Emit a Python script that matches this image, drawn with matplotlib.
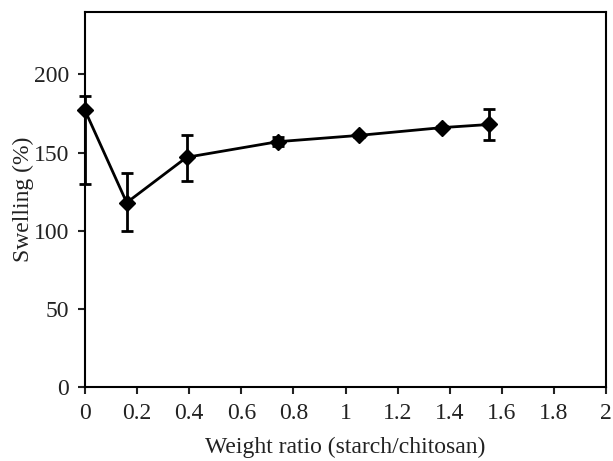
import matplotlib
import matplotlib.pyplot as plt

matplotlib.use('Agg')

# Data
weight_ratio = [0.0, 0.16, 0.39, 0.74, 1.05, 1.37, 1.55]
swelling = [177, 118, 147, 157, 161, 166, 168]
err_low = [47, 18, 15, 3, 1, 1, 10]
err_high = [9, 19, 14, 3, 1, 1, 10]

x_ticks = [0, 0.2, 0.4, 0.6, 0.8, 1, 1.2, 1.4, 1.6, 1.8, 2]
x_tick_labels = ["0", "0.2", "0.4", "0.6", "0.8", "1", "1.2", "1.4", "1.6", "1.8", "2"]
y_ticks = [0, 50, 100, 150, 200]

plt.rcParams['font.family'] = ['Liberation Serif', 'DejaVu Serif']

fig = plt.figure(figsize=(6.13, 4.61), dpi=100, facecolor="white")
ax = fig.add_axes([0.1387, 0.1605, 0.8499, 0.8135])

ax.errorbar(weight_ratio, swelling, yerr=[err_low, err_high],
            color="black", linewidth=2, marker="D", markersize=8.5,
            ecolor="black", elinewidth=2, capsize=4.5, capthick=2, clip_on=False, zorder=3)

ax.set_xlim(0, 2)
ax.set_ylim(0, 240)
ax.set_xticks(x_ticks)
ax.set_xticklabels(x_tick_labels)
ax.set_yticks(y_ticks)

ax.tick_params(axis="both", direction="out", length=5, width=1.5, labelsize=17,
               top=False, right=False, pad=6.5, colors="#222222")
for side in ["left", "bottom", "top", "right"]:
    ax.spines[side].set_linewidth(1.5)

ax.set_xlabel("Weight ratio (starch/chitosan)", fontsize=17, labelpad=9, color="#222222")
ax.set_ylabel("Swelling (%)", fontsize=17, labelpad=0, color="#222222")

plt.savefig("out.png", dpi=100, facecolor="white")
plt.close()
